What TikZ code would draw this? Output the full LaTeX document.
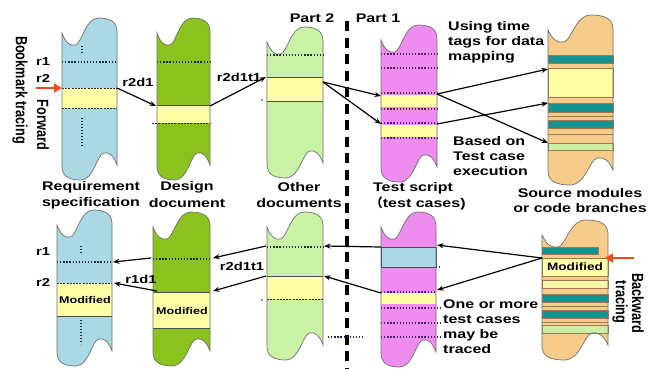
\documentclass[tikz,border=0pt]{standalone}
\usepackage{fontspec}
\usepackage{graphicx}
\setmainfont{Liberation Sans}[FakeStretch=1.28]
\newfontfamily\rotfont{Liberation Sans}
\newfontfamily\cjkfont{Noto Sans CJK SC}[FakeStretch=1.0]
\usetikzlibrary{arrows.meta}
\definecolor{cblue}{HTML}{AAD8E3}
\definecolor{cgreen}{HTML}{8CC21E}
\definecolor{clgreen}{HTML}{C9F2A5}
\definecolor{cpink}{HTML}{EF8CEF}
\definecolor{ctan}{HTML}{F7CB8A}
\definecolor{cyel}{HTML}{FFFFA6}
\definecolor{cpaley}{HTML}{FAF5A8}
\definecolor{cteal}{HTML}{15918E}
\definecolor{cbgreen}{HTML}{CDEFA5}
\definecolor{cpurple}{HTML}{50206A}
\definecolor{cnavy}{HTML}{1E2A48}
\definecolor{cred}{HTML}{F04A20}
\definecolor{cedge}{HTML}{707070}
\definecolor{cbrown}{HTML}{A07850}
\newcommand\docpathdo[5]{%
 \path[#1] (#2,{#5-14}) -- (#2,{#4+15})
  .. controls ({0.93*#2+0.07*#3},{#4+25}) and ({0.86*#2+0.14*#3},{#4+28}) .. ({0.76*#2+0.24*#3},{#4+27})
  .. controls ({0.64*#2+0.36*#3},{#4+26}) and ({0.58*#2+0.42*#3},{#4}) .. ({0.34*#2+0.66*#3},{#4})
  .. controls ({0.12*#2+0.88*#3},{#4}) and (#3,{#4+4}) .. (#3,{#4+14})
  -- (#3,{#5-15})
  .. controls ({0.93*#3+0.07*#2},{#5-25}) and ({0.86*#3+0.14*#2},{#5-28}) .. ({0.76*#3+0.24*#2},{#5-27})
  .. controls ({0.64*#3+0.36*#2},{#5-26}) and ({0.58*#3+0.42*#2},{#5}) .. ({0.34*#3+0.66*#2},{#5})
  .. controls ({0.12*#3+0.88*#2},{#5}) and (#2,{#5-4}) .. (#2,{#5-14}) -- cycle;}
\newcommand\docshape[6]{%
 \docpathdo{fill=#1}{#2}{#3}{#4}{#5}%
 #6%
 \docpathdo{draw=cedge,line width=0.7pt}{#2}{#3}{#4}{#5}}
\begin{document}
\begin{tikzpicture}[x=1pt,y=-1pt,
  lbl/.style={font=\fontsize{12.5}{14}\selectfont\bfseries,inner sep=0pt},
  small/.style={font=\fontsize{11.5}{13}\selectfont\bfseries,inner sep=0pt},
  modl/.style={font=\fontsize{9.8}{11}\selectfont\bfseries,inner sep=0pt},
  rotl/.style={font=\rotfont\fontsize{12.7}{14}\selectfont\bfseries,inner sep=0pt,rotate=-90},
  multi/.style={align=left,anchor=north west,font=\fontsize{12.5}{15}\selectfont\bfseries,inner sep=0pt},
  arr/.style={draw=black,line width=1.2pt,-{Stealth[length=6.5pt,width=5pt]}},
  redarr/.style={draw=cred,line width=2.6pt,-{Triangle[length=8pt,width=9pt]}},
  dotl/.style={draw=cnavy,line width=1.2pt,dash pattern=on 1.3pt off 1.8pt},
  pdot/.style={draw=cpurple,line width=1.2pt,dash pattern=on 1.3pt off 1.8pt},
  dashl/.style={draw=cnavy,line width=0.8pt,dash pattern=on 2pt off 1.2pt},
  thinl/.style={draw=black!70,line width=0.7pt},
  vdot/.style={draw=cnavy,line width=1.6pt,dash pattern=on 1.4pt off 1.6pt},
  bl/.style={draw=cbrown,line width=0.6pt},
  sep/.style={draw=black,line width=3.4pt,dash pattern=on 10pt off 6.5pt}]
\useasboundingbox (0,0) rectangle (652,368);
\fill[white] (0,0) rectangle (652,368);

% separator
\draw[sep] (347,21) -- (347,368);

% ================= TOP ROW =================
% requirement (blue)
\docshape{cblue}{62}{117}{18}{180}{%
 \fill[cyel] (62,88) rectangle (117,108);
 \draw[dotl] (62,62) -- (117,62);
 \draw[dashl] (62,88) -- (117,88);
 \draw[dashl] (62,108) -- (117,108);
 \draw[vdot] (82,46) -- (82,53);
 \draw[vdot] (82,118) -- (82,146);}
% design (dark green)
\docshape{cgreen}{157}{210}{18}{180}{%
 \fill[cyel] (157,105) rectangle (210,123);
 \draw[dotl] (157,62) -- (210,62);
 \draw[thinl] (157,105) -- (210,105);
 \draw[dashl] (152,123) -- (210,123);}
% other documents (light green)
\docshape{clgreen}{267}{323}{27}{178}{%
 \fill[cyel] (267,77) rectangle (323,101);
 \draw[dotl] (267,55) -- (323,55);
 \draw[thinl] (267,77) -- (323,77);
 \draw[thinl] (267,101) -- (323,101);
 \fill[cnavy] (262,100) circle (0.9);}
% test script (pink)
\docshape{cpink}{381}{437}{25}{182}{%
 \fill[cyel] (381,95) rectangle (437,107);
 \fill[cyel] (381,125) rectangle (437,137);
 \foreach \yy in {54,68,93,109,123,138} {\draw[pdot] (381,\yy) -- (437,\yy);}}
% source modules (tan)
\docshape{ctan}{548}{613}{15}{185}{%
 \filldraw[bl,fill=cteal] (548,55) rectangle (613,63);
 \filldraw[bl,fill=cyel] (548,68) rectangle (613,97);
 \filldraw[bl,fill=cteal] (548,103) rectangle (613,112);
 \draw[bl] (548,116) -- (613,116);
 \filldraw[bl,fill=cteal] (548,120) rectangle (613,128);
 \draw[bl] (548,134) -- (613,134);
 \filldraw[bl,fill=cbgreen] (548,143) rectangle (613,150);}

% ================= BOTTOM ROW =================
\docshape{cblue}{57}{112}{210}{366}{%
 \fill[cyel] (57,283) rectangle (112,316);
 \draw[dotl] (57,262) -- (112,262);
 \draw[dashl] (57,283) -- (112,283);
 \draw[thinl] (57,316) -- (112,316);
 \draw[vdot] (81,246) -- (81,253);
 \draw[vdot] (81,320) -- (81,344);}
\docshape{cgreen}{153}{210}{212}{366}{%
 \fill[cyel] (153,292) rectangle (210,328);
 \draw[dotl] (153,259) -- (210,259);
 \draw[thinl] (153,292) -- (210,292);
 \draw[thinl] (153,328) -- (210,328);}
\docshape{clgreen}{267}{323}{212}{360}{%
 \fill[cyel] (267,276) rectangle (323,299);
 \draw[dotl] (267,247) -- (323,247);
 \draw[thinl] (267,276) -- (323,276);
 \draw[dashl] (267,299) -- (323,299);
 \fill[cnavy] (262,300) circle (0.9);}
\draw[dotl] (328,337) -- (364,337);
\docshape{cpink}{381}{436}{212}{367}{%
 \filldraw[thinl,fill=cblue] (381,247) rectangle (436,267);
 \fill[cyel] (381,293) rectangle (436,304);
 \draw[pdot] (436,267) -- (442,267);
 \draw[pdot] (381,292) -- (436,292);
 \foreach \yy in {308,323,337} {\draw[pdot] (381,\yy) -- (442,\yy);}}
\docshape{ctan}{542}{608}{220}{360}{%
 \filldraw[bl,fill=cteal] (542,247) rectangle (598,254);
 \filldraw[bl,fill=cyel] (542,258) rectangle (608,276);
 \filldraw[bl,fill=cpaley] (542,280) rectangle (608,288);
 \filldraw[bl,fill=cteal] (542,294) rectangle (608,302);
 \draw[bl] (542,306) -- (608,306);
 \filldraw[bl,fill=cteal] (542,310) rectangle (608,318);
 \draw[bl] (542,322) -- (608,322);
 \filldraw[bl,fill=cbgreen] (542,325) rectangle (608,333);}

% ================= LABELS =================
\node[lbl] (tpart2) at (312,18) {Part 2};
\node[lbl] (tpart1) at (378,18) {Part 1};
\node[lbl] (treq1) at (91,187) {Requirement};
\node[lbl] (treq2) at (91,203) {specification};
\node[lbl] (tdes1) at (187,187) {Design};
\node[lbl] (tdes2) at (187,203) {document};
\node[lbl] (toth1) at (299,187) {Other};
\node[lbl] (toth2) at (299,203) {documents};
\node[lbl] (ttst1) at (413,188) {Test script};
\node[lbl] (ttst2) at (418,203) {{\cjkfont （}test cases)};
\node[lbl] (tsrc1) at (580,193) {Source modules};
\node[lbl] (tsrc2) at (580,208) {or code branches};
\node[multi] (tusing) at (448,21) {Using time\\tags for data\\mapping};
\node[multi] (tbased) at (453,136) {Based on\\Test case\\execution};
\node[multi] (tone) at (443,300) {One or more\\test cases\\may be\\traced};
\node[small] (tr1a) at (43,62) {r1};
\node[small] (tr2a) at (43,78) {r2};
\node[small] (tr2d1) at (138,82) {r2d1};
\node[small] (tr2d1t1a) at (239,77) {r2d1t1};
\node[small] (tr1b) at (43,252) {r1};
\node[small] (tr2b) at (43,282) {r2};
\node[small] (tr1d1) at (141,279) {r1d1};
\node[small] (tr2d1t1b) at (242,266) {r2d1t1};
\node[modl] (tmod1) at (85,300) {Modified};
\node[modl] (tmod2) at (182,311) {Modified};
\node[modl,font=\fontsize{10.6}{12}\selectfont\bfseries] (tmod3) at (575,267) {Modified};
\node[rotl] (tbook) at (20,90) {\scalebox{1}[1.28]{Bookmark tracing}};
\node[rotl] (tfwd) at (43,125) {\scalebox{1}[1.28]{Forward}};
\node[rotl] (tback) at (638,303) {\scalebox{1}[1.28]{Backward}};
\node[rotl] (ttrac) at (620,302) {\scalebox{1}[1.28]{tracing}};

% ================= CONNECTORS =================
\coordinate (redA0) at (36,88);  \coordinate (redA1) at (62,88);
\coordinate (redB0) at (634,258); \coordinate (redB1) at (605,258);
\draw[redarr] (redA0) -- (redA1);
\draw[redarr] (redB0) -- (redB1);

\coordinate (b1r2) at (117,88);   \coordinate (g1in) at (156,106);
\coordinate (g1out) at (210,106); \coordinate (l1in) at (266,77);
\coordinate (l1out) at (323,82);  \coordinate (p1inA) at (381,96); \coordinate (p1inB) at (381,124);
\coordinate (p1outA) at (437,94); \coordinate (p1outB) at (437,124);
\coordinate (s1A) at (548,69); \coordinate (s1B) at (548,143); \coordinate (s1C) at (548,103);
\draw[arr] (b1r2) -- (g1in);
\draw[arr] (g1out) -- (l1in);
\draw[arr] (l1out) -- (p1inA);
\draw[arr] (l1out) -- (p1inB);
\draw[arr] (p1outA) -- (s1A);
\draw[arr] (p1outA) -- (s1B);
\draw[arr] (p1outB) -- (s1C);

\coordinate (s2out) at (542,258);
\coordinate (p2inA) at (437,245); \coordinate (p2inB) at (437,290);
\coordinate (p2outA) at (381,247); \coordinate (p2outB) at (381,293);
\coordinate (l2inA) at (324,246); \coordinate (l2inB) at (324,276);
\coordinate (l2outA) at (266,246); \coordinate (l2outB) at (266,276);
\coordinate (g2inA) at (213,258); \coordinate (g2inB) at (213,291);
\coordinate (g2outA) at (151,258); \coordinate (g2outB) at (157,291);
\coordinate (b2inA) at (113,262); \coordinate (b2inB) at (114,283);
\draw[arr] (s2out) -- (p2inA);
\draw[arr] (s2out) -- (p2inB);
\draw[arr] (p2outA) -- (l2inA);
\draw[arr] (p2outB) -- (l2inB);
\draw[arr] (l2outA) -- (g2inA);
\draw[arr] (l2outB) -- (g2inB);
\draw[arr] (g2outA) -- (b2inA);
\draw[arr] (g2outB) -- (b2inB);
\end{tikzpicture}
\end{document}
